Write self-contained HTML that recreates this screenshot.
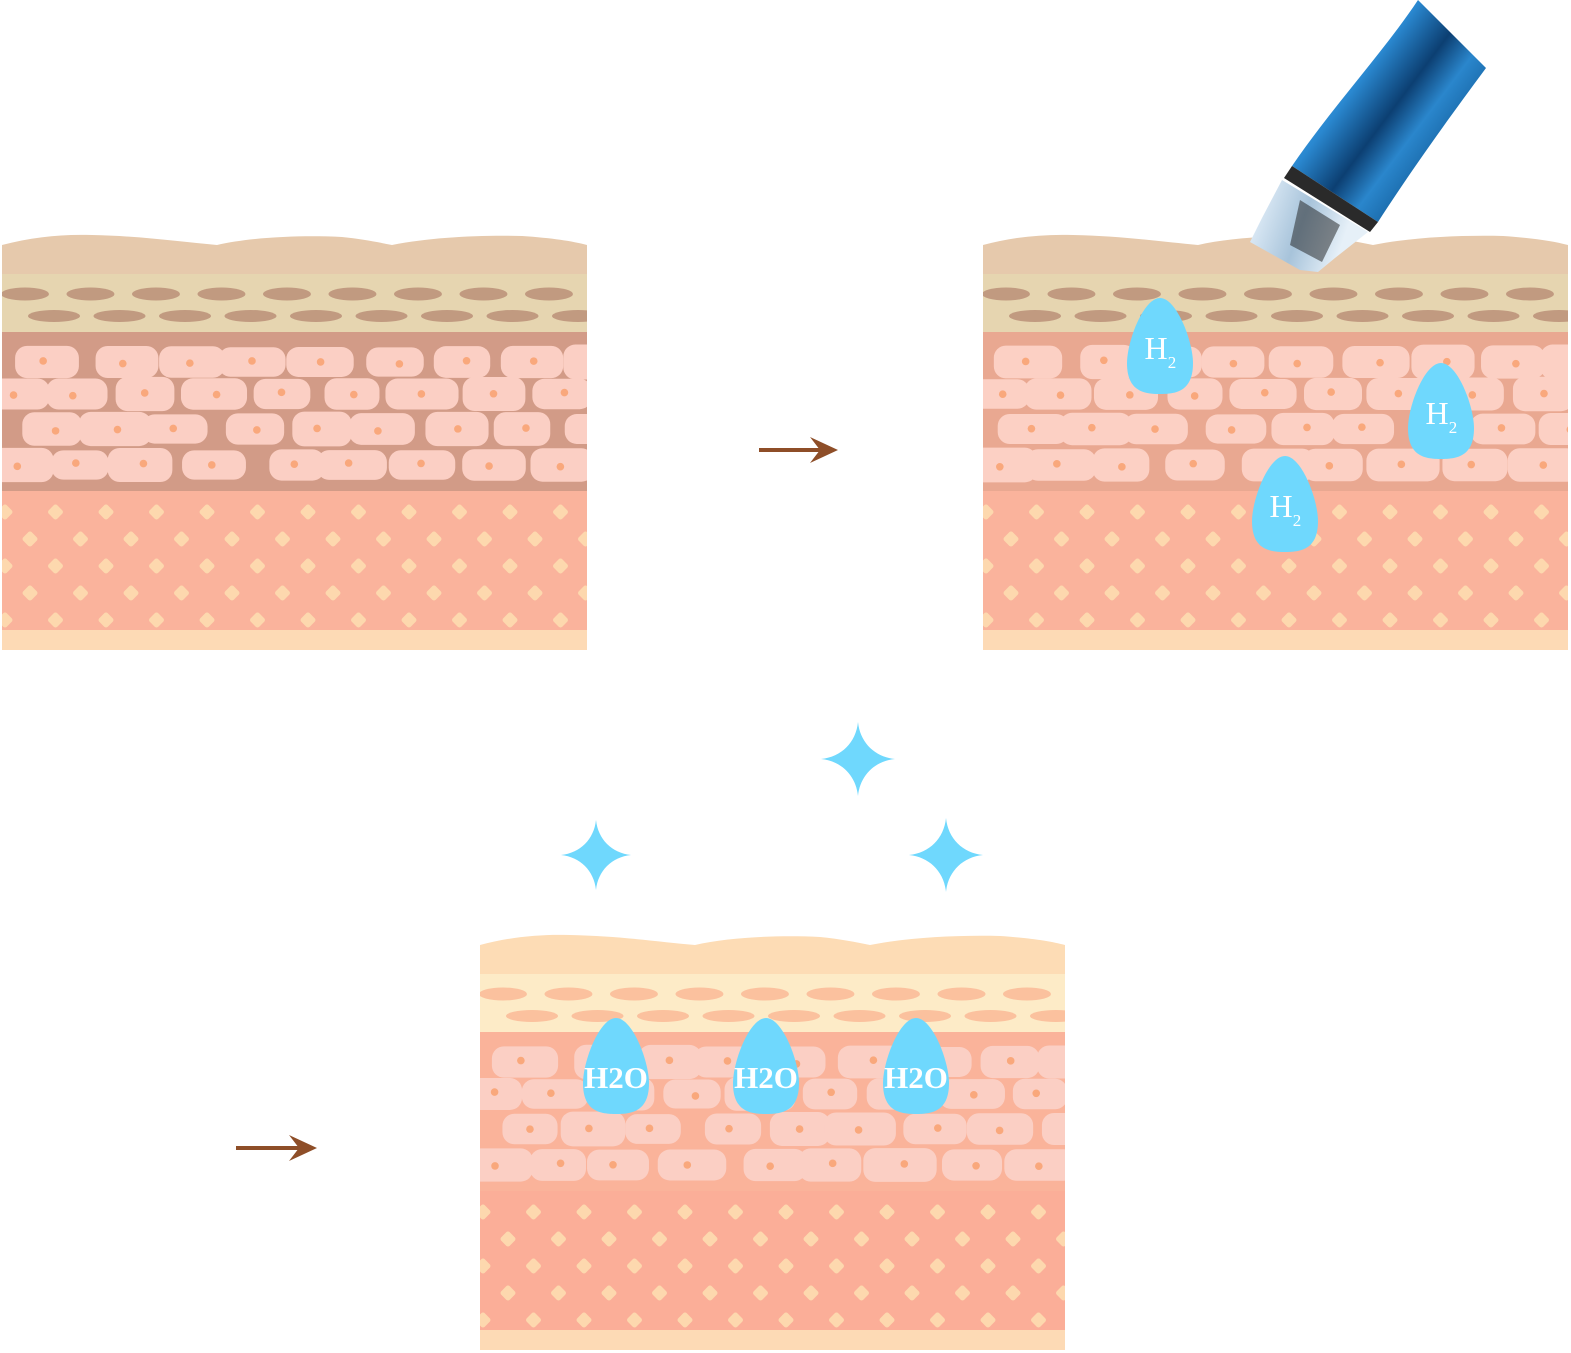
<!DOCTYPE html>
<html><head><meta charset="utf-8"><style>html,body{margin:0;padding:0;background:#fff}svg{display:block}</style></head>
<body>
<svg id="s" xmlns="http://www.w3.org/2000/svg" width="1571" height="1353" viewBox="0 0 1571 1353">
<defs>
<linearGradient id="bg" gradientUnits="userSpaceOnUse" x1="1325" y1="85" x2="1425" y2="160">
<stop offset="0" stop-color="#3a9ae0"/><stop offset="0.2" stop-color="#2a88d0"/><stop offset="0.55" stop-color="#0c3f72"/><stop offset="0.8" stop-color="#2a86cc"/><stop offset="1" stop-color="#1d6fb0"/>
</linearGradient>
<linearGradient id="tg" gradientUnits="userSpaceOnUse" x1="1255" y1="220" x2="1340" y2="250">
<stop offset="0" stop-color="#dbe9f5"/><stop offset="0.5" stop-color="#a7c3da"/><stop offset="1" stop-color="#e6f0f8"/>
</linearGradient>
<clipPath id="bc"><rect x="0" y="0" width="585" height="420"/></clipPath>
</defs>
<g id="blocks"></g>
<g fill="#8e4e28">
<rect x="759" y="448" width="70" height="4"/><path d="M810 437 L838 450 L810 463 L820 450 Z"/>
<rect x="236" y="1146" width="72" height="4"/><path d="M289 1135 L317 1148 L289 1161 L299 1148 Z"/>
</g>
<g fill="#6fd8fd" id="stars"></g>
<g id="drops"></g>
<path d="M1418,0 L1486,68 C1440,130 1405,180 1378,222 L1292,166 C1330,110 1385,50 1418,0 Z" fill="url(#bg)"/>
<polygon points="1292,166 1378,222 1370,232 1284,178" fill="#2a2a2a"/>
<polygon points="1282,180 1368,232 1335,258 1318,272 1300,270 1250,242 1262,218" fill="url(#tg)"/>
<polygon points="1300,200 1340,225 1322,262 1290,245" fill="#1c1c1c" opacity="0.5"/>
</svg>
<script>
var NS="http://www.w3.org/2000/svg";
function el(p,t,a){var e=document.createElementNS(NS,t);for(var k in a)e.setAttribute(k,a[k]);p.appendChild(e);return e;}
var seed=7;function rnd(){seed=(seed*9301+49297)%233280;return seed/233280;}
function block(X,Y,c){
 var o=el(document.getElementById('blocks'),'g',{transform:'translate('+X+','+Y+')'});
 var g=el(o,'g',{'clip-path':'url(#bc)'});
 el(g,'path',{d:'M0 13 C30 5 60 2 90 3 C140 4 180 10 215 13 C250 5 300 3 340 5 C360 7 375 10 390 13 C430 5 480 3 520 4 C550 6 570 9 585 13 L585 43 L0 43 Z',fill:c.top});
 el(g,'rect',{x:0,y:42,width:585,height:58,fill:c.l2});
 for(var i=0;i<10;i++){el(g,'ellipse',{cx:23+i*65.5,cy:62,rx:24,ry:6.5,fill:c.ov});}
 for(var i=0;i<10;i++){el(g,'ellipse',{cx:52+i*65.5,cy:84,rx:26,ry:6,fill:c.ov});}
 el(g,'rect',{x:0,y:100,width:585,height:160,fill:c.l3});
 var rows=[[130,[45,125,190,250,318,393,460,530,590]],[162,[15,75,143,212,280,350,420,492,560]],[197,[50,113,173,253,320,380,455,520,590]],[233,[18,78,138,212,295,350,420,492,560]]];
 rows.forEach(function(r){r[1].forEach(function(x){var w=54+rnd()*20,h=29+rnd()*6;
  el(g,'rect',{x:x-w/2,y:r[0]-h/2,width:w,height:h,rx:12,fill:c.cell});
  el(g,'circle',{cx:x-5+rnd()*10,cy:r[0]+rnd()*4-2,r:3.8,fill:'#f9a87c'});});});
 el(g,'rect',{x:0,y:259,width:585,height:140,fill:c.l4});
 for(var r=0;r<5;r++){var y=280+r*27;var off=(r%2==0)?3:28;
  for(var x=off;x<600;x+=50.5){el(g,'rect',{x:x-6,y:y-6,width:12,height:12,rx:2.5,fill:c.dia,transform:'rotate(45 '+x+' '+y+')'});}}
 el(g,'rect',{x:0,y:398,width:585,height:20,fill:c.bot});
}
block(2,232,{top:'#e6c9ac',l2:'#e6d5b0',ov:'#c19a80',l3:'#d29b87',cell:'#fbcfc4',l4:'#fab39c',dia:'#fdd8ae',bot:'#fddab5'});
block(983,232,{top:'#e6c9ac',l2:'#e6d5b0',ov:'#c19a80',l3:'#e9a891',cell:'#fcd0c4',l4:'#fab39c',dia:'#fdd8ae',bot:'#fddab5'});
block(480,932,{top:'#fddcb5',l2:'#fdebc7',ov:'#fbc19e',l3:'#fab39a',cell:'#fbcfc4',l4:'#fbae98',dia:'#fdd8ae',bot:'#fddab5'});
var st=document.getElementById('stars');
[[858,759,37],[596,855,35],[946,855,37]].forEach(function(s){var x=s[0],y=s[1],r=s[2],k=r*0.45;
 el(st,'path',{d:'M'+x+' '+(y-r)+' C'+(x+2)+' '+(y-k)+' '+(x+k)+' '+(y-2)+' '+(x+r)+' '+y+' C'+(x+k)+' '+(y+2)+' '+(x+2)+' '+(y+k)+' '+x+' '+(y+r)+' C'+(x-2)+' '+(y+k)+' '+(x-k)+' '+(y+2)+' '+(x-r)+' '+y+' C'+(x-k)+' '+(y-2)+' '+(x-2)+' '+(y-k)+' '+x+' '+(y-r)+'Z'});});
var dr=document.getElementById('drops');
function drop(cx,top,w,h){var b=top+h;var hw=w/2;
 el(dr,'path',{d:'M'+cx+' '+top+' C'+(cx+hw*0.5)+' '+top+' '+(cx+hw)+' '+(top+h*0.45)+' '+(cx+hw)+' '+(top+h*0.68)+' C'+(cx+hw)+' '+(b-h*0.02)+' '+(cx+hw*0.45)+' '+b+' '+cx+' '+b+' C'+(cx-hw*0.45)+' '+b+' '+(cx-hw)+' '+(b-h*0.02)+' '+(cx-hw)+' '+(top+h*0.68)+' C'+(cx-hw)+' '+(top+h*0.45)+' '+(cx-hw*0.5)+' '+top+' '+cx+' '+top+'Z',fill:'#6fd8fd'});}
[[1160,298],[1441,363],[1285,456]].forEach(function(d){drop(d[0],d[1],66,96);
 var t=el(dr,'text',{x:d[0]-4,y:d[1]+61,fill:'#fff','font-family':'Liberation Serif, serif','font-size':'32','text-anchor':'middle'});t.textContent='H';
 var t2=el(dr,'text',{x:d[0]+12,y:d[1]+70,fill:'#fff','font-family':'Liberation Serif, serif','font-size':'17','text-anchor':'middle'});t2.textContent='2';});
[616,766,916].forEach(function(x){drop(x,1018,66,96);
 var t=el(dr,'text',{x:x,y:1088,fill:'#fff','font-family':'Liberation Serif, serif','font-size':'31','font-weight':'bold','text-anchor':'middle'});t.textContent='H2O';});
</script>
</body></html>
